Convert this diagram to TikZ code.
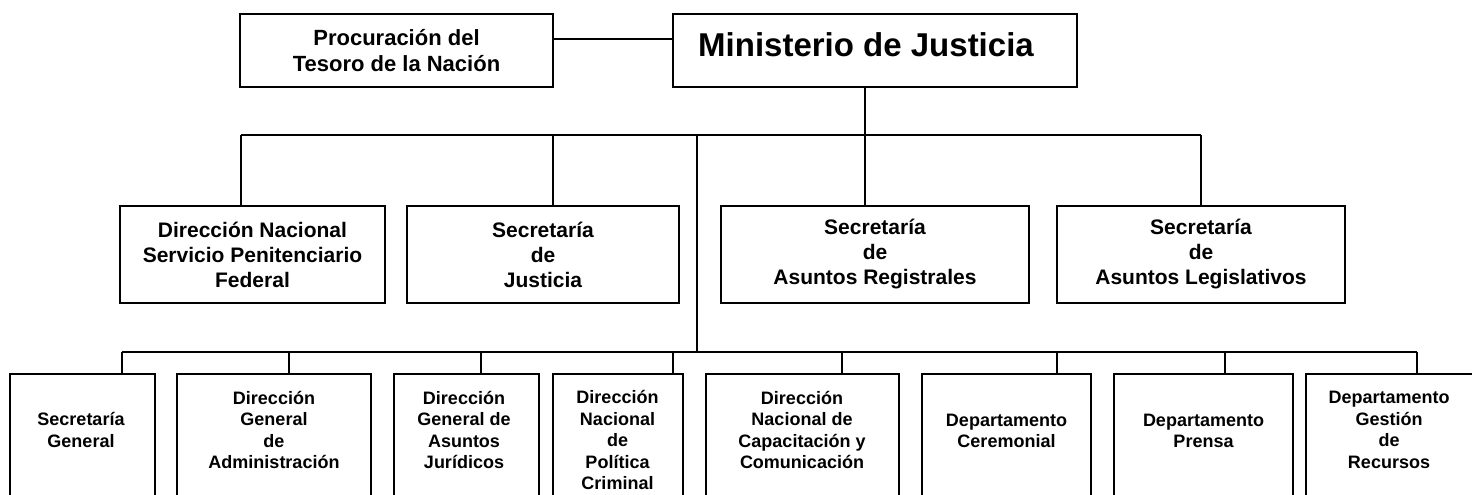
\documentclass[tikz,border=0pt]{standalone}
\usepackage{fontspec}
\setmainfont{Liberation Sans}
\begin{document}
\begin{tikzpicture}[x=1pt,y=-1pt,
  box/.style={draw,line width=2.3pt,inner sep=0pt,align=center},
  conn/.style={line width=1.5pt},
  ttop/.style={font=\fontsize{22}{26.5}\selectfont\bfseries,align=center},
  tmid/.style={font=\fontsize{21}{25}\selectfont\bfseries,align=center},
  tbot/.style={font=\fontsize{18}{21.5}\selectfont\bfseries,align=center,inner sep=0pt},
  bbox/.style={box,minimum height=156pt}]
\useasboundingbox (0,0) rectangle (1472,495);
\fill[white] (0,0) rectangle (1472,495);
\clip (0,0) rectangle (1472,495);

% top row
\node[box,ttop,minimum width=313pt,minimum height=73pt] (proc) at (396.5,50.5) {Procuración del\\Tesoro de la Nación};
\node[box,minimum width=404pt,minimum height=73pt] (min) at (875,50.5) {};
\node[font=\fontsize{33}{38}\selectfont\bfseries] (mint) at (866,45) {Ministerio de Justicia};

% middle row
\node[box,tmid,minimum width=265pt,minimum height=97pt] (r1) at (252.5,254.5) {Dirección Nacional\\Servicio Penitenciario\\Federal};
\node[box,tmid,minimum width=272pt,minimum height=97pt] (r2) at (543,254.5) {Secretaría\\de\\Justicia};
\node[box,tmid,minimum width=308pt,minimum height=97pt] (r3) at (875,254.5) {Secretaría\\de\\Asuntos Registrales};
\node[box,tmid,minimum width=288pt,minimum height=97pt] (r4) at (1201,254.5) {Secretaría\\de\\Asuntos Legislativos};

% bottom row boxes
\node[bbox,minimum width=145pt] (b1) at (82.5,452) {};
\node[bbox,minimum width=194pt] (b2) at (274,452) {};
\node[bbox,minimum width=145pt] (b3) at (466.5,452) {};
\node[bbox,minimum width=130pt] (b4) at (618,452) {};
\node[bbox,minimum width=193pt] (b5) at (802.5,452) {};
\node[bbox,minimum width=169pt] (b6) at (1006.5,452) {};
\node[bbox,minimum width=179pt] (b7) at (1203.5,452) {};
\node[bbox,minimum width=168pt] (b8) at (1390,452) {};

% bottom row texts
\node[tbot] (t1) at (81,430) {Secretaría\\General};
\node[tbot] (t2) at (274,430) {Dirección\\General\\de\\Administración};
\node[tbot] (t3) at (464,430) {Dirección\\General de\\Asuntos\\Jurídicos};
\node[tbot] (t4) at (617.5,440) {Dirección\\Nacional\\de\\Política\\Criminal};
\node[tbot] (t5) at (802,430) {Dirección\\Nacional de\\Capacitación y\\Comunicación};
\node[tbot] (t6) at (1006.5,431) {Departamento\\Ceremonial};
\node[tbot] (t7) at (1203.5,431) {Departamento\\Prensa};
\node[tbot] (t8) at (1389,430) {Departamento\\Gestión\\de\\Recursos};

% junction coordinates
\coordinate (pj) at (600,39);
\coordinate (busA) at (241,135);
\coordinate (busB) at (1201,135);
\coordinate (j2) at (553,135);
\coordinate (j3) at (865,135);
\coordinate (trunk) at (697,135);
\coordinate (busC) at (122,352);
\coordinate (busD) at (1417,352);
\coordinate (k2) at (289,352);
\coordinate (k3) at (481,352);
\coordinate (k4) at (673,352);
\coordinate (k5) at (842,352);
\coordinate (k6) at (1057,352);
\coordinate (k7) at (1225,352);

% connectors
\draw[conn] (proc.east |- pj) -- (min.west |- pj);
\draw[conn] (min.south -| j3) -- (r3.north -| j3);
\draw[conn] (busA) -- (busB);
\draw[conn] (busA) -- (r1.north -| busA);
\draw[conn] (j2) -- (r2.north -| j2);
\draw[conn] (busB) -- (r4.north -| busB);
\draw[conn] (trunk) -- (trunk |- busC);
\draw[conn] (busC) -- (busD);
\draw[conn] (busC) -- (b1.north -| busC);
\draw[conn] (k2) -- (b2.north -| k2);
\draw[conn] (k3) -- (b3.north -| k3);
\draw[conn] (k4) -- (b4.north -| k4);
\draw[conn] (k5) -- (b5.north -| k5);
\draw[conn] (k6) -- (b6.north -| k6);
\draw[conn] (k7) -- (b7.north -| k7);
\draw[conn] (busD) -- (b8.north -| busD);
\end{tikzpicture}
\end{document}
